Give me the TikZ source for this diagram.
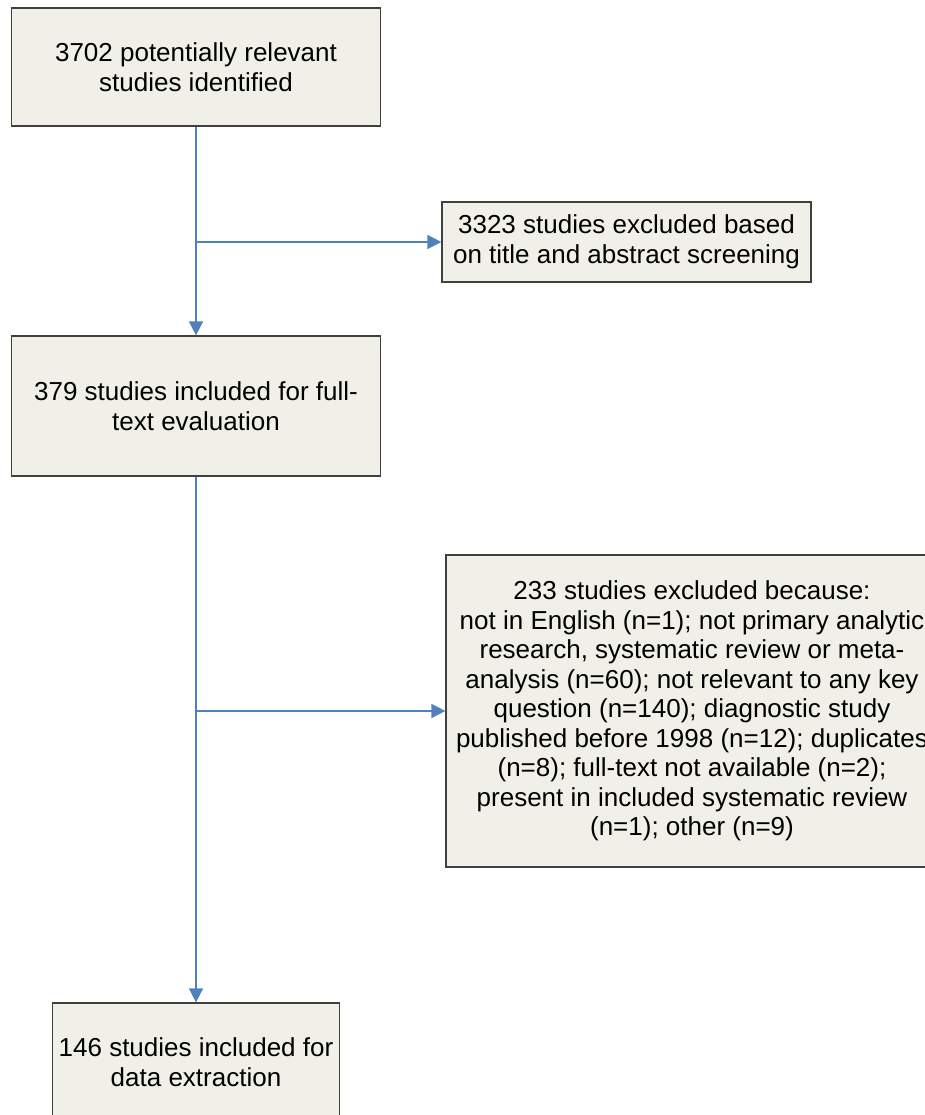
\documentclass[tikz,border=0pt]{standalone}
\usepackage{fontspec}
\setmainfont{Liberation Sans}
\usetikzlibrary{arrows.meta}
\definecolor{boxfill}{RGB}{240,240,232}
\definecolor{boxline}{RGB}{64,64,64}
\definecolor{flowblue}{RGB}{79,129,189}
\tikzset{
  stage/.style={draw=boxline,fill=boxfill,line width=1.2pt,align=center,inner sep=0pt,
    font=\fontsize{26}{29.5}\selectfont},
  flow/.style={draw=flowblue,line width=1.5pt,-{Triangle[length=14pt,width=14pt]}}
}
\begin{document}
\begin{tikzpicture}[x=1pt,y=-1pt]
    \useasboundingbox (0,0) rectangle (925,1115);

    \node[stage,minimum width=369pt,minimum height=118pt] (found) at (196,67) {3702 potentially relevant\\studies identified};
    \node[stage,minimum width=369pt,minimum height=80pt] (excl1) at (626.5,242) {3323 studies excluded based\\on title and abstract screening};
    \node[stage,minimum width=369pt,minimum height=140pt] (full) at (196,406) {379 studies included for full-\\text evaluation};
    \node[stage,minimum width=492pt,minimum height=312pt] (excl2) at (692,711) {233 studies excluded because:\\not in English (n=1); not primary analytic\\research, systematic review or meta-\\analysis (n=60); not relevant to any key\\question (n=140); diagnostic study\\published before 1998 (n=12); duplicates\\(n=8); full-text not available (n=2);\\present in included systematic review\\(n=1); other (n=9)};
    \node[stage,minimum width=287pt,minimum height=118pt] (data) at (196,1062) {146 studies included for\\data extraction};

    \coordinate (b1) at (found.south |- excl1.west);
    \coordinate (b2) at (full.south |- excl2.west);

    \draw[flow] (found.south) -- (full.north);
    \draw[flow] (b1) -- (excl1.west);
    \draw[flow] (full.south) -- (data.north);
    \draw[flow] (b2) -- (excl2.west);
  \end{tikzpicture}
\end{document}
